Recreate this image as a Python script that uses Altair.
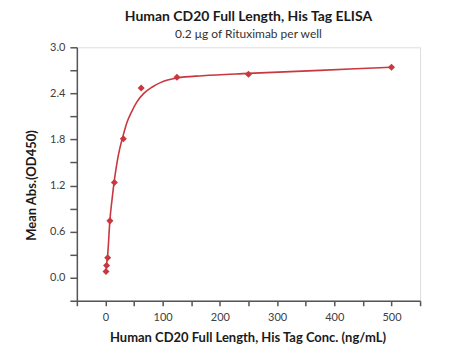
import altair as alt
import pandas as pd

# measured points
conc = [500, 250, 125, 62.5, 31.25, 15.625, 7.8125, 3.906, 1.953, 0.977]
od = [2.74, 2.65, 2.61, 2.47, 1.81, 1.24, 0.74, 0.26, 0.16, 0.08]

# fitted curve
curve_x = [0.977, 1.953, 3.906, 7.8, 12, 15.6, 20, 25, 31.25, 38, 45, 55, 67, 81, 96, 125, 170, 250, 375, 500]
curve_y = [0.08, 0.17, 0.30, 0.75, 1.05, 1.27, 1.49, 1.68, 1.86, 2.03, 2.15, 2.29, 2.40, 2.48, 2.54, 2.60, 2.63, 2.66, 2.70, 2.74]

x_ticks = list(range(-50, 551, 50))
y_ticks = [-0.3, 0.0, 0.3, 0.6, 0.9, 1.2, 1.5, 1.8, 2.1, 2.4, 2.7, 3.0]

pts = pd.DataFrame({"x": conc, "y": od})
crv = pd.DataFrame({"x": curve_x, "y": curve_y})

RED = "#c8383e"
FONT = "Lato"

xs = alt.Scale(domain=[-50, 550], nice=False, zero=False)
ys = alt.Scale(domain=[-0.3, 3.0], nice=False, zero=False)

xaxis = alt.Axis(
    values=x_ticks, tickCount=50, labelOverlap=False,
    labelExpr="(datum.value >= 0 && datum.value % 100 == 0) ? datum.label : ''",
    grid=False, tickSize=5, tickColor="#555555", domainColor="#555555",
    domainWidth=1.5, tickWidth=1.5, labelFont=FONT, labelFontSize=11,
    labelColor="#404040", labelPadding=6,
    title="Human CD20 Full Length, His Tag Conc. (ng/mL)",
    titleFont=FONT, titleFontSize=13, titleFontWeight="bold", titleColor="#1a1a1a",
    titleX=171, titleY=41, titleBaseline="alphabetic", titleAlign="center",
)
yaxis = alt.Axis(
    values=y_ticks, tickCount=50, labelOverlap=False, format=".1f",
    labelExpr="(datum.value > -0.1 && abs(round(datum.value * 10)) % 6 == 0) ? datum.label : ''",
    grid=False, tickSize=7, tickColor="#555555", domainColor="#555555",
    domainWidth=1.5, tickWidth=1.5, labelFont=FONT, labelFontSize=11,
    labelColor="#404040", labelPadding=5,
    title="Mean Abs.(OD450)",
    titleFont=FONT, titleFontSize=13, titleFontWeight="bold", titleColor="#1a1a1a",
    titleX=-45, titleY=138, titleAngle=270, titleAlign="center", titleBaseline="middle",
)

line = alt.Chart(crv).mark_line(color=RED, strokeWidth=1.6, interpolate="monotone").encode(
    x=alt.X("x:Q", scale=xs, axis=xaxis),
    y=alt.Y("y:Q", scale=ys, axis=yaxis),
)
dots = alt.Chart(pts).mark_point(shape="diamond", filled=True, size=50, color=RED, opacity=1).encode(
    x=alt.X("x:Q", scale=xs),
    y=alt.Y("y:Q", scale=ys),
)

chart = alt.layer(line, dots).properties(
    width=344, height=254,
    title=alt.TitleParams(
        text="Human CD20 Full Length, His Tag ELISA",
        subtitle="0.2 μg of Rituximab per well",
        anchor="middle", font=FONT, fontSize=14, fontWeight="bold", color="#1a1a1a",
        subtitleFont=FONT, subtitleFontSize=12, subtitleColor="#333333",
        offset=1, subtitlePadding=5,
    ),
    padding={"left": 69, "top": 39, "right": 40, "bottom": 50},
    autosize=alt.AutoSizeParams(type="none"),
).configure_view(stroke=None).configure(background="white")

chart.save("out.html", embed_options={"renderer": "svg", "actions": False})
